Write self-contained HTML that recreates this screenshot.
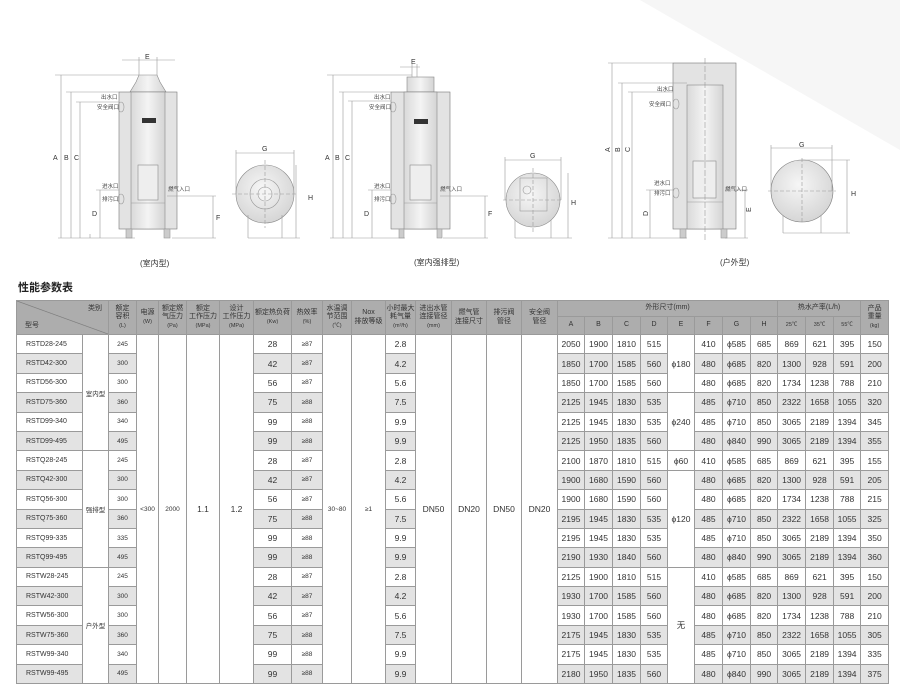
<!DOCTYPE html>
<html><head><meta charset="utf-8">
<style>
*{margin:0;padding:0;box-sizing:border-box}
body{width:900px;height:683px;background:#fff;position:relative;overflow:hidden;font-family:"Liberation Sans","Noto Sans CJK SC",sans-serif;color:#333}
#bg{position:absolute;left:0;top:0}
#title{position:absolute;left:18px;top:279px;font-size:11px;font-weight:bold;color:#222}
#tb{position:absolute;left:16px;top:300px}
table{border-collapse:collapse;table-layout:fixed;width:872px}
td{border:1px solid #9a9a9a;text-align:center;vertical-align:middle;font-size:8.5px;color:#333;padding:0;overflow:hidden;white-space:nowrap}
tbody tr{height:19.4px}
tbody td.m{font-size:7px;text-align:left;padding-left:9px}
tbody td.s{font-size:6.5px}
tr.g td{background:#e3e3e3}
tr.g td.w{background:#fff}
thead td{background:#adadad;color:#333;font-size:7px;line-height:8.5px;white-space:normal}
thead td small{font-size:5.5px}
thead tr.r1{height:16px}
thead tr.r2{height:18px}
</style></head><body>
<svg id="bg" width="900" height="300" viewBox="0 0 900 300" font-family="Liberation Sans, Noto Sans CJK SC, sans-serif">
<defs>
<linearGradient id="gb" x1="0" x2="1"><stop offset="0" stop-color="#d9d9d9"/><stop offset=".5" stop-color="#f4f4f4"/><stop offset="1" stop-color="#d4d4d4"/></linearGradient>
<radialGradient id="gc" cx=".45" cy=".4" r=".6"><stop offset="0" stop-color="#f6f6f6"/><stop offset="1" stop-color="#d6d6d6"/></radialGradient>
</defs>
<polygon points="640,0 900,0 900,150" fill="#f6f6f6"/>
<g stroke="#999" stroke-width=".6" fill="none">
<!-- heater 1 -->
<polygon points="130,92 166,92 160,82 157,75 139,75 136,82" fill="url(#gb)" stroke="#888"/>
<rect x="119" y="92" width="58" height="137" fill="#e3e3e3" stroke="#777"/>
<rect x="131" y="92" width="34" height="137" fill="url(#gb)" stroke="#888"/>
<line x1="131" y1="203" x2="165" y2="203"/>
<rect x="138" y="165" width="20" height="35" fill="#eee" stroke="#888"/>
<rect x="142" y="118" width="14" height="5" fill="#333" stroke="none"/>
<rect x="126" y="229" width="6" height="9" fill="#ccc"/><rect x="164" y="229" width="6" height="9" fill="#ccc"/>
<ellipse cx="121" cy="107" rx="3" ry="5"/><ellipse cx="121" cy="199" rx="3" ry="5"/>
<line x1="122" y1="60" x2="175" y2="60"/><line x1="139" y1="57" x2="139" y2="75"/><line x1="157" y1="57" x2="157" y2="75"/>
<line x1="55" y1="75" x2="139" y2="75"/><line x1="61" y1="75" x2="61" y2="238"/>
<line x1="66" y1="92" x2="119" y2="92"/><line x1="71" y1="92" x2="71" y2="238"/>
<line x1="76" y1="102" x2="119" y2="102"/><line x1="80" y1="102" x2="80" y2="238"/>
<line x1="96" y1="190" x2="119" y2="190"/><line x1="100" y1="190" x2="100" y2="238"/>
<line x1="58" y1="238" x2="135" y2="238"/><line x1="90" y1="234" x2="90" y2="238"/>
<line x1="167" y1="196" x2="216" y2="196"/><line x1="172" y1="238" x2="216" y2="238"/><line x1="213" y1="196" x2="213" y2="238"/>
<circle cx="265" cy="194" r="29" fill="url(#gc)" stroke="#888"/><circle cx="265" cy="194" r="15"/><circle cx="265" cy="194" r="7" fill="#f4f4f4"/>
<line x1="236" y1="153" x2="294" y2="153"/><line x1="236" y1="150" x2="236" y2="194"/><line x1="294" y1="150" x2="294" y2="194"/>
<line x1="296" y1="165" x2="296" y2="238"/><line x1="248" y1="215" x2="248" y2="238"/><line x1="282" y1="215" x2="282" y2="238"/><line x1="248" y1="238" x2="300" y2="238"/>
<line x1="232" y1="194" x2="298" y2="194" stroke-dasharray="4 2"/><line x1="265" y1="160" x2="265" y2="228" stroke-dasharray="4 2"/>
<!-- heater 2 -->
<rect x="407" y="77" width="27" height="15" fill="url(#gb)" stroke="#888"/>
<rect x="391" y="92" width="59" height="137" fill="#e3e3e3" stroke="#777"/>
<rect x="404" y="92" width="33" height="137" fill="url(#gb)" stroke="#888"/>
<line x1="404" y1="203" x2="437" y2="203"/>
<rect x="410" y="165" width="21" height="35" fill="#eee" stroke="#888"/>
<rect x="414" y="119" width="14" height="5" fill="#333" stroke="none"/>
<rect x="399" y="229" width="5" height="9" fill="#ccc"/><rect x="437" y="229" width="5" height="9" fill="#ccc"/>
<ellipse cx="393" cy="107" rx="3" ry="5"/><ellipse cx="393" cy="199" rx="3" ry="5"/>
<line x1="400" y1="67" x2="420" y2="67"/><line x1="412" y1="64" x2="412" y2="77"/><line x1="417" y1="64" x2="417" y2="77"/>
<line x1="327" y1="75" x2="412" y2="75"/><line x1="333" y1="75" x2="333" y2="238"/>
<line x1="339" y1="92" x2="391" y2="92"/><line x1="343" y1="92" x2="343" y2="238"/>
<line x1="348" y1="101" x2="391" y2="101"/><line x1="352" y1="101" x2="352" y2="238"/>
<line x1="368" y1="190" x2="391" y2="190"/><line x1="372" y1="190" x2="372" y2="238"/>
<line x1="330" y1="238" x2="405" y2="238"/>
<line x1="440" y1="196" x2="488" y2="196"/><line x1="443" y1="238" x2="488" y2="238"/><line x1="485" y1="196" x2="485" y2="238"/>
<circle cx="533" cy="200" r="27" fill="url(#gc)" stroke="#888"/>
<rect x="520" y="178" width="27" height="33" fill="none"/><circle cx="527" cy="190" r="4"/>
<line x1="505" y1="160" x2="561" y2="160"/><line x1="505" y1="157" x2="505" y2="200"/><line x1="561" y1="157" x2="561" y2="200"/>
<line x1="568" y1="173" x2="568" y2="238"/><line x1="515" y1="238" x2="572" y2="238"/><line x1="515" y1="220" x2="515" y2="238"/><line x1="551" y1="220" x2="551" y2="238"/>
<line x1="503" y1="200" x2="563" y2="200" stroke-dasharray="4 2"/><line x1="533" y1="168" x2="533" y2="232" stroke-dasharray="4 2"/>
<!-- heater 3 -->
<rect x="673" y="63" width="63" height="166" fill="#e3e3e3" stroke="#777"/>
<rect x="687" y="85" width="36" height="144" fill="url(#gb)" stroke="#888"/>
<line x1="687" y1="202" x2="723" y2="202"/>
<rect x="693" y="161" width="23" height="37" fill="#eee" stroke="#888"/>
<line x1="705" y1="58" x2="705" y2="240" stroke-dasharray="6 2"/>
<rect x="680" y="229" width="6" height="9" fill="#ccc"/><rect x="721" y="229" width="6" height="9" fill="#ccc"/>
<ellipse cx="676" cy="104" rx="3" ry="5"/><ellipse cx="676" cy="193" rx="3" ry="5"/>
<line x1="608" y1="63" x2="673" y2="63"/><line x1="612" y1="63" x2="612" y2="238"/>
<line x1="618" y1="83" x2="687" y2="83"/><line x1="622" y1="83" x2="622" y2="238"/>
<line x1="628" y1="92" x2="673" y2="92"/><line x1="632" y1="92" x2="632" y2="238"/>
<line x1="646" y1="190" x2="673" y2="190"/><line x1="650" y1="190" x2="650" y2="238"/>
<line x1="608" y1="238" x2="687" y2="238"/>
<line x1="725" y1="190" x2="748" y2="190"/><line x1="725" y1="238" x2="748" y2="238"/><line x1="745" y1="190" x2="745" y2="238"/>
<circle cx="802" cy="191" r="31" fill="url(#gc)" stroke="#777"/>
<line x1="771" y1="148" x2="832" y2="148"/><line x1="771" y1="145" x2="771" y2="191"/><line x1="832" y1="145" x2="832" y2="191"/>
<line x1="847" y1="160" x2="847" y2="233"/><line x1="802" y1="160" x2="850" y2="160"/><line x1="783" y1="233" x2="850" y2="233"/>
<line x1="783" y1="215" x2="783" y2="233"/><line x1="821" y1="215" x2="821" y2="233"/>
<line x1="768" y1="191" x2="836" y2="191" stroke-dasharray="4 2"/><line x1="802" y1="158" x2="802" y2="224" stroke-dasharray="4 2"/>
</g>
<g fill="#333" font-size="7">
<text x="145" y="59">E</text><text x="53" y="160">A</text><text x="64" y="160">B</text><text x="74" y="160">C</text><text x="92" y="216">D</text><text x="216" y="220">F</text>
<text x="262" y="151">G</text><text x="308" y="200">H</text>
<text x="411" y="64">E</text><text x="325" y="160">A</text><text x="335" y="160">B</text><text x="345" y="160">C</text><text x="364" y="216">D</text><text x="488" y="216">F</text>
<text x="530" y="158">G</text><text x="571" y="205">H</text>
<text x="799" y="147">G</text><text x="851" y="196">H</text>
<text transform="translate(610,152) rotate(-90)">A</text><text transform="translate(620,152) rotate(-90)">B</text><text transform="translate(630,152) rotate(-90)">C</text><text transform="translate(648,216) rotate(-90)">D</text><text transform="translate(751,212) rotate(-90)">E</text>
</g>
<g fill="#444" font-size="5.5">
<text x="101" y="99">出水口</text><text x="97" y="109">安全阀口</text><text x="102" y="188">进水口</text><text x="102" y="201">排污口</text><text x="168" y="191">燃气入口</text>
<text x="374" y="99">出水口</text><text x="369" y="109">安全阀口</text><text x="374" y="188">进水口</text><text x="374" y="201">排污口</text><text x="440" y="191">燃气入口</text>
<text x="657" y="91">出水口</text><text x="649" y="106">安全阀口</text><text x="654" y="185">进水口</text><text x="654" y="195">排污口</text><text x="725" y="191">燃气入口</text>
</g>
<g fill="#333" font-size="8">
<text x="140" y="266">(室内型)</text><text x="414" y="265">(室内强排型)</text><text x="720" y="265">(户外型)</text>
</g>
</svg>
<div id="title">性能参数表</div>
<div id="tb"><table>
<colgroup><col style="width:66px"><col style="width:26px"><col style="width:28px"><col style="width:22px"><col style="width:28px"><col style="width:33px"><col style="width:34px"><col style="width:38px"><col style="width:31px"><col style="width:29px"><col style="width:34px"><col style="width:30px"><col style="width:36px"><col style="width:35px"><col style="width:35px"><col style="width:36px"><col style="width:27px"><col style="width:28px"><col style="width:28px"><col style="width:27px"><col style="width:27px"><col style="width:28px"><col style="width:28px"><col style="width:27px"><col style="width:28px"><col style="width:28px"><col style="width:27px"><col style="width:28px"></colgroup>
<thead>
<tr class="r1"><td colspan="2" rowspan="2" style="position:relative;background:#adadad linear-gradient(to top right,transparent 49%,#777 50%,transparent 51%) no-repeat;"><span style="position:absolute;right:6px;top:4px">类别</span><span style="position:absolute;left:8px;bottom:4px">型号</span></td>
<td rowspan="2">额定<br>容积<br><small>(L)</small></td><td rowspan="2">电源<br><small>(W)</small></td><td rowspan="2">额定燃<br>气压力<br><small>(Pa)</small></td><td rowspan="2">额定<br>工作压力<br><small>(MPa)</small></td><td rowspan="2">设计<br>工作压力<br><small>(MPa)</small></td><td rowspan="2">额定热负荷<br><small>(Kw)</small></td><td rowspan="2">热效率<br><small>(%)</small></td><td rowspan="2">水温调<br>节范围<br><small>(℃)</small></td><td rowspan="2">Nox<br>排放等级</td><td rowspan="2">小时最大<br>耗气量<br><small>(m³/h)</small></td><td rowspan="2">进出水管<br>连接管径<br><small>(mm)</small></td><td rowspan="2">燃气管<br>连接尺寸</td><td rowspan="2">排污阀<br>管径</td><td rowspan="2">安全阀<br>管径</td>
<td colspan="8">外形尺寸(mm)</td><td colspan="3">热水产率(L/h)</td><td rowspan="2">产品<br>重量<br><small>(kg)</small></td></tr>
<tr class="r2"><td>A</td><td>B</td><td>C</td><td>D</td><td>E</td><td>F</td><td>G</td><td>H</td><td><small>25℃</small></td><td><small>35℃</small></td><td><small>55℃</small></td></tr>
</thead>
<tbody>
<tr><td class="m">RSTD28-245</td><td rowspan="6" class="s">室内型</td><td class="s">245</td><td rowspan="18" class="s">&lt;300</td><td rowspan="18" class="s">2000</td><td rowspan="18">1.1</td><td rowspan="18">1.2</td><td>28</td><td class="s">≥87</td><td rowspan="18" class="s">30~80</td><td rowspan="18" class="s">≥1</td><td>2.8</td><td rowspan="18">DN50</td><td rowspan="18">DN20</td><td rowspan="18">DN50</td><td rowspan="18">DN20</td><td>2050</td><td>1900</td><td>1810</td><td>515</td><td rowspan="3">ϕ180</td><td>410</td><td>ϕ585</td><td>685</td><td>869</td><td>621</td><td>395</td><td>150</td></tr>
<tr class="g"><td class="m">RSTD42-300</td><td class="s">300</td><td>42</td><td class="s">≥87</td><td>4.2</td><td>1850</td><td>1700</td><td>1585</td><td>560</td><td>480</td><td>ϕ685</td><td>820</td><td>1300</td><td>928</td><td>591</td><td>200</td></tr>
<tr><td class="m">RSTD56-300</td><td class="s">300</td><td>56</td><td class="s">≥87</td><td>5.6</td><td>1850</td><td>1700</td><td>1585</td><td>560</td><td>480</td><td>ϕ685</td><td>820</td><td>1734</td><td>1238</td><td>788</td><td>210</td></tr>
<tr class="g"><td class="m">RSTD75-360</td><td class="s">360</td><td>75</td><td class="s">≥88</td><td>7.5</td><td>2125</td><td>1945</td><td>1830</td><td>535</td><td rowspan="3" class="w">ϕ240</td><td>485</td><td>ϕ710</td><td>850</td><td>2322</td><td>1658</td><td>1055</td><td>320</td></tr>
<tr><td class="m">RSTD99-340</td><td class="s">340</td><td>99</td><td class="s">≥88</td><td>9.9</td><td>2125</td><td>1945</td><td>1830</td><td>535</td><td>485</td><td>ϕ710</td><td>850</td><td>3065</td><td>2189</td><td>1394</td><td>345</td></tr>
<tr class="g"><td class="m">RSTD99-495</td><td class="s">495</td><td>99</td><td class="s">≥88</td><td>9.9</td><td>2125</td><td>1950</td><td>1835</td><td>560</td><td>480</td><td>ϕ840</td><td>990</td><td>3065</td><td>2189</td><td>1394</td><td>355</td></tr>
<tr><td class="m">RSTQ28-245</td><td rowspan="6" class="s">强排型</td><td class="s">245</td><td>28</td><td class="s">≥87</td><td>2.8</td><td>2100</td><td>1870</td><td>1810</td><td>515</td><td>ϕ60</td><td>410</td><td>ϕ585</td><td>685</td><td>869</td><td>621</td><td>395</td><td>155</td></tr>
<tr class="g"><td class="m">RSTQ42-300</td><td class="s">300</td><td>42</td><td class="s">≥87</td><td>4.2</td><td>1900</td><td>1680</td><td>1590</td><td>560</td><td rowspan="5" class="w">ϕ120</td><td>480</td><td>ϕ685</td><td>820</td><td>1300</td><td>928</td><td>591</td><td>205</td></tr>
<tr><td class="m">RSTQ56-300</td><td class="s">300</td><td>56</td><td class="s">≥87</td><td>5.6</td><td>1900</td><td>1680</td><td>1590</td><td>560</td><td>480</td><td>ϕ685</td><td>820</td><td>1734</td><td>1238</td><td>788</td><td>215</td></tr>
<tr class="g"><td class="m">RSTQ75-360</td><td class="s">360</td><td>75</td><td class="s">≥88</td><td>7.5</td><td>2195</td><td>1945</td><td>1830</td><td>535</td><td>485</td><td>ϕ710</td><td>850</td><td>2322</td><td>1658</td><td>1055</td><td>325</td></tr>
<tr><td class="m">RSTQ99-335</td><td class="s">335</td><td>99</td><td class="s">≥88</td><td>9.9</td><td>2195</td><td>1945</td><td>1830</td><td>535</td><td>485</td><td>ϕ710</td><td>850</td><td>3065</td><td>2189</td><td>1394</td><td>350</td></tr>
<tr class="g"><td class="m">RSTQ99-495</td><td class="s">495</td><td>99</td><td class="s">≥88</td><td>9.9</td><td>2190</td><td>1930</td><td>1840</td><td>560</td><td>480</td><td>ϕ840</td><td>990</td><td>3065</td><td>2189</td><td>1394</td><td>360</td></tr>
<tr><td class="m">RSTW28-245</td><td rowspan="6" class="s">户外型</td><td class="s">245</td><td>28</td><td class="s">≥87</td><td>2.8</td><td>2125</td><td>1900</td><td>1810</td><td>515</td><td rowspan="6">无</td><td>410</td><td>ϕ585</td><td>685</td><td>869</td><td>621</td><td>395</td><td>150</td></tr>
<tr class="g"><td class="m">RSTW42-300</td><td class="s">300</td><td>42</td><td class="s">≥87</td><td>4.2</td><td>1930</td><td>1700</td><td>1585</td><td>560</td><td>480</td><td>ϕ685</td><td>820</td><td>1300</td><td>928</td><td>591</td><td>200</td></tr>
<tr><td class="m">RSTW56-300</td><td class="s">300</td><td>56</td><td class="s">≥87</td><td>5.6</td><td>1930</td><td>1700</td><td>1585</td><td>560</td><td>480</td><td>ϕ685</td><td>820</td><td>1734</td><td>1238</td><td>788</td><td>210</td></tr>
<tr class="g"><td class="m">RSTW75-360</td><td class="s">360</td><td>75</td><td class="s">≥88</td><td>7.5</td><td>2175</td><td>1945</td><td>1830</td><td>535</td><td>485</td><td>ϕ710</td><td>850</td><td>2322</td><td>1658</td><td>1055</td><td>305</td></tr>
<tr><td class="m">RSTW99-340</td><td class="s">340</td><td>99</td><td class="s">≥88</td><td>9.9</td><td>2175</td><td>1945</td><td>1830</td><td>535</td><td>485</td><td>ϕ710</td><td>850</td><td>3065</td><td>2189</td><td>1394</td><td>335</td></tr>
<tr class="g"><td class="m">RSTW99-495</td><td class="s">495</td><td>99</td><td class="s">≥88</td><td>9.9</td><td>2180</td><td>1950</td><td>1835</td><td>560</td><td>480</td><td>ϕ840</td><td>990</td><td>3065</td><td>2189</td><td>1394</td><td>375</td></tr>
</tbody></table></div>
</body></html>
